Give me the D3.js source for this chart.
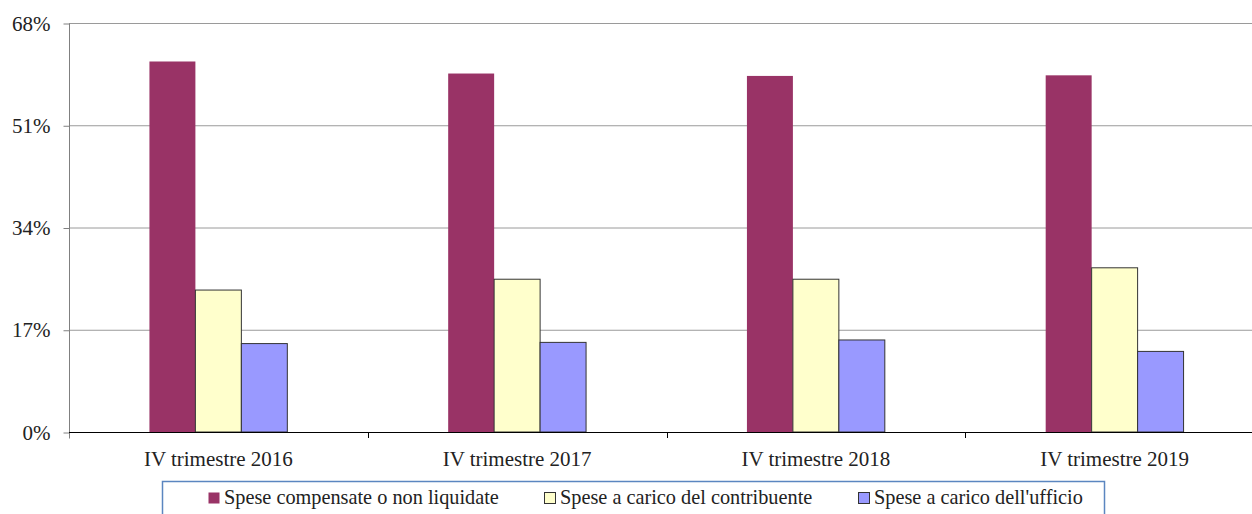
<!DOCTYPE html>
<html>
<head>
<meta charset="utf-8">
<script src="https://cdn.jsdelivr.net/npm/d3@7"></script>
<style>
  body { margin: 0; background: #fff; }
  svg { display: block; font-family: "Liberation Serif", "DejaVu Serif", serif; }
</style>
</head>
<body>
<svg id="chart" width="1252" height="514"></svg>
<script>
// Chart data
var categories = ["IV trimestre 2016", "IV trimestre 2017", "IV trimestre 2018", "IV trimestre 2019"];
var seriesNames = ["Spese compensate o non liquidate", "Spese a carico del contribuente", "Spese a carico dell'ufficio"];
var compensate = [61.6, 59.6, 59.2, 59.3];
var contribuente = [23.6, 25.4, 25.4, 27.3];
var ufficio = [14.7, 14.9, 15.3, 13.4];
var yTicks = [0, 17, 34, 51, 68];

var seriesValues = [compensate, contribuente, ufficio];
var colors = ["#993366", "#FFFFCC", "#9999FF"];
var strokes = ["none", "#333333", "#333333"];
var serif = "'Liberation Serif', 'DejaVu Serif', serif";

var svg = d3.select("#chart");

// Plot area
var plotLeft = 69, plotRight = 1264, plotTop = 23, plotBottom = 432;

var x0 = d3.scaleBand()
  .domain(categories)
  .range([plotLeft, plotRight])
  .paddingInner(0)
  .paddingOuter(0);

var x1 = d3.scaleBand()
  .domain(d3.range(seriesNames.length))
  .range([0, x0.bandwidth()])
  .paddingInner(0)
  .paddingOuter(1.75);

var y = d3.scaleLinear()
  .domain([0, 68])
  .range([plotBottom, plotTop]);

// Gridlines
svg.append("g")
  .selectAll("line")
  .data(yTicks.filter(function(d) { return d > 0; }))
  .enter().append("line")
  .attr("x1", plotLeft)
  .attr("x2", plotRight)
  .attr("y1", function(d) { return y(d) + 0.5; })
  .attr("y2", function(d) { return y(d) + 0.5; })
  .attr("stroke", "#9a9a9a")
  .attr("stroke-width", 1);

// Bars
var groups = svg.append("g")
  .selectAll("g")
  .data(categories)
  .enter().append("g")
  .attr("transform", function(d) { return "translate(" + x0(d) + ",0)"; });

groups.selectAll("rect")
  .data(function(d, i) {
    return seriesValues.map(function(vals, s) { return { s: s, v: vals[i] }; });
  })
  .enter().append("rect")
  .attr("x", function(d) { return x1(d.s); })
  .attr("y", function(d) { return y(d.v); })
  .attr("width", x1.bandwidth())
  .attr("height", function(d) { return plotBottom - y(d.v); })
  .attr("fill", function(d) { return colors[d.s]; })
  .attr("stroke", function(d) { return strokes[d.s]; })
  .attr("stroke-width", 1);

// Y axis
var yAxis = svg.append("g")
  .attr("transform", "translate(" + (plotLeft + 0.5) + ",0.5)")
  .call(d3.axisLeft(y)
    .tickValues(yTicks)
    .tickSize(6)
    .tickPadding(13)
    .tickFormat(function(d) { return d + "%"; }));
yAxis.select(".domain").attr("stroke", "#808080").attr("d", "M0," + plotTop + "V" + (plotBottom + 6));
yAxis.selectAll(".tick line").attr("stroke", "#808080");
yAxis.selectAll("text")
  .attr("fill", "#222")
  .style("font-size", "21px")
  .style("font-family", serif);

// X axis
var xAxis = svg.append("g")
  .attr("transform", "translate(0," + (plotBottom + 0.5) + ")")
  .call(d3.axisBottom(x0).tickSize(0).tickPadding(19));
xAxis.select(".domain").attr("stroke", "#000").attr("d", "M" + plotLeft + ",0H" + plotRight);
xAxis.selectAll("text")
  .attr("fill", "#222")
  .style("font-size", "21px")
  .style("font-family", serif);

// Category separator ticks
svg.append("g")
  .selectAll("line")
  .data(categories.slice(1))
  .enter().append("line")
  .attr("x1", function(d) { return Math.round(x0(d)) + 0.5; })
  .attr("x2", function(d) { return Math.round(x0(d)) + 0.5; })
  .attr("y1", plotBottom)
  .attr("y2", plotBottom + 6)
  .attr("stroke", "#000");

// Legend
var legend = svg.append("g");
legend.append("rect")
  .attr("x", 162.5)
  .attr("y", 481.5)
  .attr("width", 942)
  .attr("height", 40)
  .attr("fill", "#fff")
  .attr("stroke", "#5b86c0")
  .attr("stroke-width", 1.5);

var legendX = [208, 544, 858];
var items = legend.selectAll("g.item")
  .data(seriesNames)
  .enter().append("g")
  .attr("class", "item")
  .attr("transform", function(d, i) { return "translate(" + legendX[i] + ",492)"; });

items.append("rect")
  .attr("x", 0.5)
  .attr("y", 0.5)
  .attr("width", 11)
  .attr("height", 11)
  .attr("fill", function(d, i) { return colors[i]; })
  .attr("stroke", function(d, i) { return i === 0 ? "none" : "#333"; });

items.append("text")
  .attr("x", 16)
  .attr("y", 12)
  .attr("fill", "#222")
  .style("font-size", "20.3px")
  .style("font-family", serif)
  .text(function(d) { return d; });
</script>
</body>
</html>
